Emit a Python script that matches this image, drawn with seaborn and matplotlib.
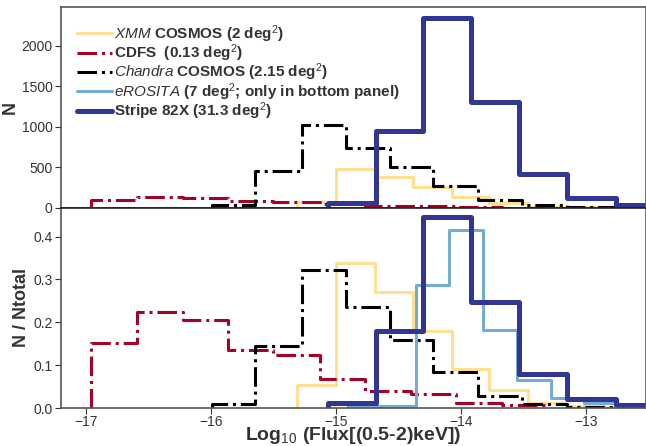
import numpy as np
import pandas as pd
import matplotlib
matplotlib.use("Agg")
import matplotlib.pyplot as plt
from matplotlib.lines import Line2D
import seaborn as sns

# bin edges in log10 flux and the counts per bin
xmm_edges = [-15.31, -15.00, -14.69, -14.38, -14.07, -13.77, -13.46, -13.16, -12.85, -12.54, -12.23]
xmm_counts = [76, 475, 380, 252, 129, 60, 15, 7, 4, 3]

cdfs_edges = [-16.96, -16.59, -16.22, -15.86, -15.50, -15.13, -14.77, -14.40, -14.04, -13.67, -13.31]
cdfs_counts = [93, 138, 127, 84, 77, 42, 25, 20, 7, 4]

chandra_edges = [-15.99, -15.65, -15.27, -14.92, -14.57, -14.22, -13.86, -13.51, -13.15, -12.80, -12.44]
chandra_counts = [31, 456, 1020, 745, 500, 268, 92, 30, 10, 5]

# eROSITA only appears in the normalised panel
erosita_edges = [-14.90, -14.63, -14.36, -14.09, -13.82, -13.55, -13.28, -13.01, -12.74, -12.47, -12.20]
erosita_frac = [0.004, 0.004, 0.289, 0.418, 0.183, 0.066, 0.024, 0.011, 0.003, 0.002]

s82x_edges = [-15.06, -14.68, -14.30, -13.92, -13.53, -13.15, -12.76, -12.38, -12.00, -11.61, -11.23]
s82x_counts = [60, 945, 2350, 1310, 422, 118, 40, 20, 12, 8]

labels = [
    r"$\mathit{XMM}$ COSMOS (2 deg$^2$)",
    r"CDFS  (0.13 deg$^2$)",
    r"$\mathit{Chandra}$ COSMOS (2.15 deg$^2$)",
    r"$\mathit{eROSITA}$ (7 deg$^2$; only in bottom panel)",
    r"Stripe 82X (31.3 deg$^2$)",
]
colors = ["#fee090", "#a50026", "black", "#74add1", "#313695"]
styles = ["-", "-.", "-.", "-", "-"]
widths = [2.2, 2.2, 2.2, 2.2, 3.6]

sns.set_style("ticks")
plt.rcParams["font.family"] = ["Liberation Sans", "DejaVu Sans"]
plt.rcParams["mathtext.fontset"] = "custom"
plt.rcParams["mathtext.rm"] = "Liberation Sans"
plt.rcParams["mathtext.it"] = "Liberation Sans:italic"
plt.rcParams["mathtext.bf"] = "Liberation Sans:bold"


def draw(ax, edges, weights, i, stat):
    # empty sliver bins at both ends so the outline drops to zero like hist(histtype='step')
    eps = 1e-4
    e = [edges[0] - eps] + list(edges) + [edges[-1] + eps]
    w = [0] + list(weights) + [0]
    e_arr = np.asarray(e)
    df = pd.DataFrame({"flux": (e_arr[:-1] + e_arr[1:]) / 2, "n": w})
    sns.histplot(data=df, x="flux", weights="n", bins=e, stat=stat,
                 element="step", fill=False, color=colors[i],
                 linestyle=styles[i], linewidth=widths[i], ax=ax)


fig = plt.figure(figsize=(6.46, 4.46), dpi=100)
ax1 = fig.add_axes([0.0944, 0.534, 0.905, 0.450])
ax2 = fig.add_axes([0.0944, 0.085, 0.905, 0.449], sharex=ax1)

# top panel: raw counts
draw(ax1, xmm_edges, xmm_counts, 0, "count")
draw(ax1, cdfs_edges, cdfs_counts, 1, "count")
draw(ax1, chandra_edges, chandra_counts, 2, "count")
draw(ax1, s82x_edges, s82x_counts, 4, "count")

# bottom panel: normalised
draw(ax2, xmm_edges, xmm_counts, 0, "probability")
draw(ax2, cdfs_edges, cdfs_counts, 1, "probability")
draw(ax2, chandra_edges, chandra_counts, 2, "probability")
draw(ax2, erosita_edges, erosita_frac, 3, "probability")
draw(ax2, s82x_edges, s82x_counts, 4, "probability")

ax1.set_xlim(-17.2, -12.52)
ax1.set_ylim(0, 2480)
ax2.set_ylim(0, 0.467)
ax1.set_yticks([0, 500, 1000, 1500, 2000])
ax2.set_yticks([0.0, 0.1, 0.2, 0.3, 0.4])
ax2.set_xticks([-17, -16, -15, -14, -13])

ax1.tick_params(axis="x", bottom=False, labelbottom=False)
for ax in (ax1, ax2):
    ax.tick_params(axis="both", labelsize=10, colors="#333333", length=4.5, pad=1.5)
    for side in ["top", "right", "left", "bottom"]:
        ax.spines[side].set_visible(True)
        ax.spines[side].set_color("#555555")
        ax.spines[side].set_linewidth(1.2)
ax1.spines["bottom"].set_color("#222222")
ax2.spines["top"].set_color("#222222")
ax2.tick_params(axis="x", pad=0.5)

ax1.set_xlabel("")
ax1.set_ylabel("N", fontsize=13, fontweight="bold", color="#333333", labelpad=2)
ax2.set_ylabel("N / Ntotal", fontsize=13, fontweight="bold", color="#333333", labelpad=2)
ax2.set_xlabel(r"Log$_{10}$ (Flux[(0.5-2)keV])", fontsize=14, fontweight="bold",
               color="#333333")
ax2.xaxis.set_label_coords(0.5, -0.085)

handles = [Line2D([0], [0], color=colors[i], linestyle=styles[i], linewidth=widths[i])
           for i in range(5)]
leg = ax1.legend(handles, labels, loc="upper left", frameon=False,
                 prop={"weight": "bold", "size": 11}, handlelength=2.3,
                 handletextpad=0.1, labelspacing=-0.15,
                 bbox_to_anchor=(0.0, 1.0), borderaxespad=0.65)
for t in leg.get_texts():
    t.set_color("#333333")

fig.savefig("out.png", dpi=100)
